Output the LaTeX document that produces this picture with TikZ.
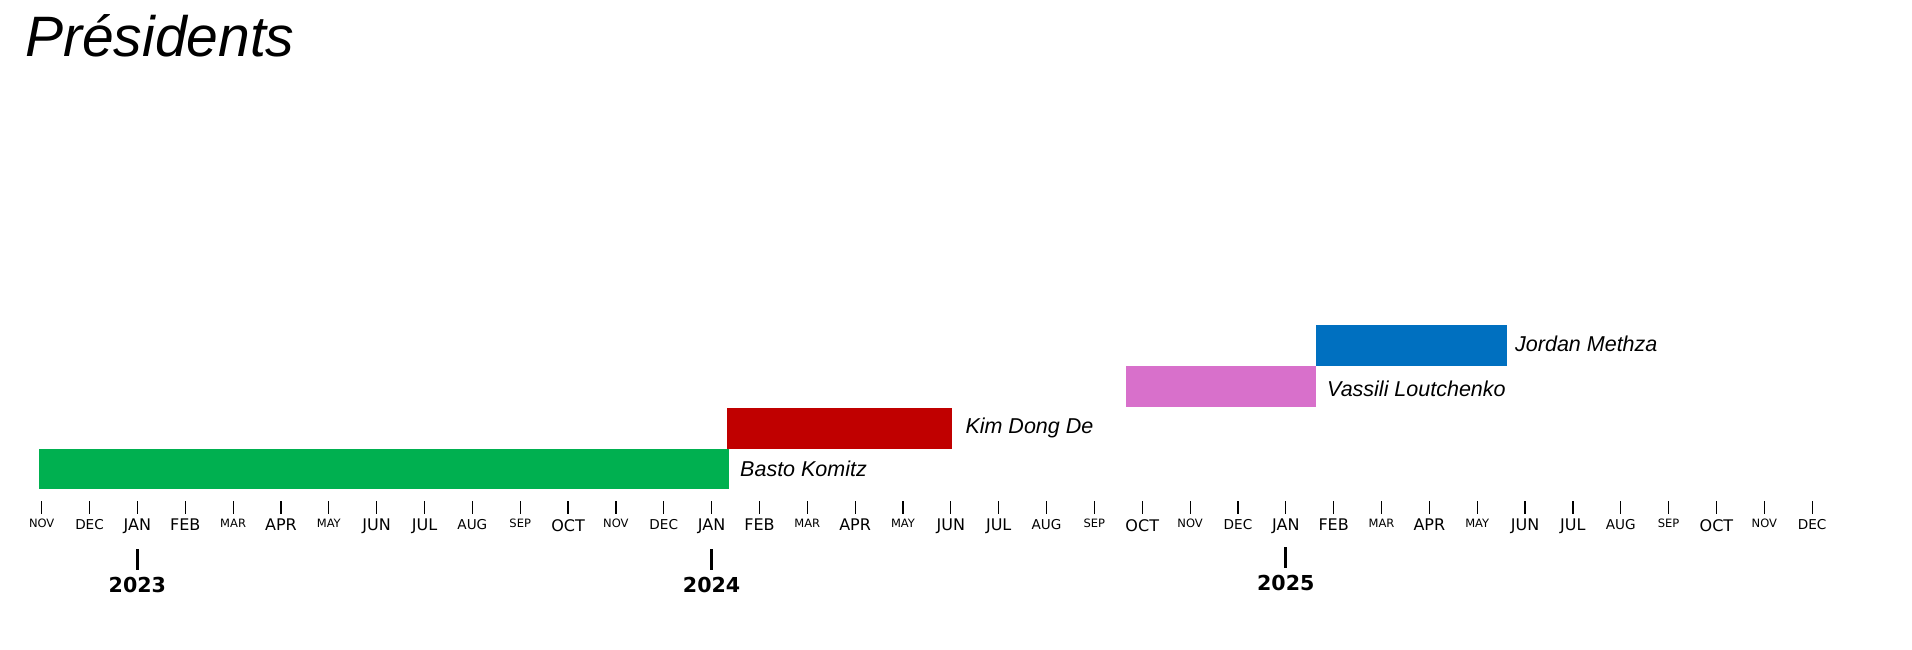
\documentclass[tikz,border=0pt]{standalone}
\usepackage{fontspec}
\setmainfont{Liberation Sans}
\newfontfamily\axisfont{DejaVu Sans}
\usetikzlibrary{positioning}

\definecolor{presgreen}{HTML}{00B050}
\definecolor{presred}{HTML}{C00000}
\definecolor{prespink}{HTML}{D870CB}
\definecolor{presblue}{HTML}{0070C0}

\begin{document}
\begin{tikzpicture}[
  x=1pt, y=-1pt,
  bar/.style={inner sep=0, outer sep=0, minimum height=40.8pt, anchor=south west},
  who/.style={inner sep=0, font=\itshape\fontsize{21.5}{24}\selectfont},
  mtick/.style={line width=1.2pt},
  mlab/.style={anchor=north, inner sep=0},
  sizeS/.style={font=\axisfont\fontsize{11.5}{13}\selectfont},
  sizeM/.style={font=\axisfont\fontsize{13.6}{15}\selectfont},
  sizeL/.style={font=\axisfont\fontsize{16}{18}\selectfont},
  ytick/.style={line width=2.7pt},
  ylab/.style={anchor=north, inner sep=0, font=\axisfont\bfseries\fontsize{20.6}{24}\selectfont},
]
\useasboundingbox (0,0) rectangle (1912,650);

% Title
\node[anchor=base west, inner sep=0, font=\itshape\fontsize{57}{60}\selectfont] (title) at (25,57) {Présidents};

% Terms
\node[bar, fill=presgreen, minimum width=690pt] (basto) at (39,489.3) {};
\node[bar, fill=presred, minimum width=225pt] (kim) at (727.3,448.5) {};
\node[bar, fill=prespink, minimum width=190pt] (vassili) at (1126,407) {};
\node[bar, fill=presblue, minimum width=191pt] (jordan) at (1316,366) {};

% Names
\node[who, right=11pt of basto] (bastolbl) {Basto Komitz};
\node[who, right=13pt of kim] (kimlbl) {Kim Dong De};
\node[who, right=11pt of vassili, yshift=-2pt] (vassililbl) {Vassili Loutchenko};
\node[who, right=8pt of jordan, yshift=2pt] (jordanlbl) {Jordan Methza};

% Months, Nov 2022 to Dec 2025
\foreach \m/\sz [count=\i from 0] in {NOV/S,DEC/M,JAN/L,FEB/L,MAR/S,APR/L,MAY/S,JUN/L,JUL/L,AUG/M,SEP/S,OCT/L,
    NOV/S,DEC/M,JAN/L,FEB/L,MAR/S,APR/L,MAY/S,JUN/L,JUL/L,AUG/M,SEP/S,OCT/L,
    NOV/S,DEC/M,JAN/L,FEB/L,MAR/S,APR/L,MAY/S,JUN/L,JUL/L,AUG/M,SEP/S,OCT/L,NOV/S,DEC/M} {
  \draw[mtick] ({41.7+\i*47.85},501) -- ++(0,13);
  \node[mlab, size\sz] (m\i) at ({41.7+\i*47.85},519) {\m};
}

% Years
\draw[ytick] (137.4,549) -- ++(0,21);
\node[ylab] (y2023) at (137.4,577) {2023};
\draw[ytick] (711.6,549) -- ++(0,21);
\node[ylab] (y2024) at (711.6,577) {2024};
\draw[ytick] (1285.8,547) -- ++(0,21);
\node[ylab] (y2025) at (1285.8,575) {2025};

\end{tikzpicture}
\end{document}
